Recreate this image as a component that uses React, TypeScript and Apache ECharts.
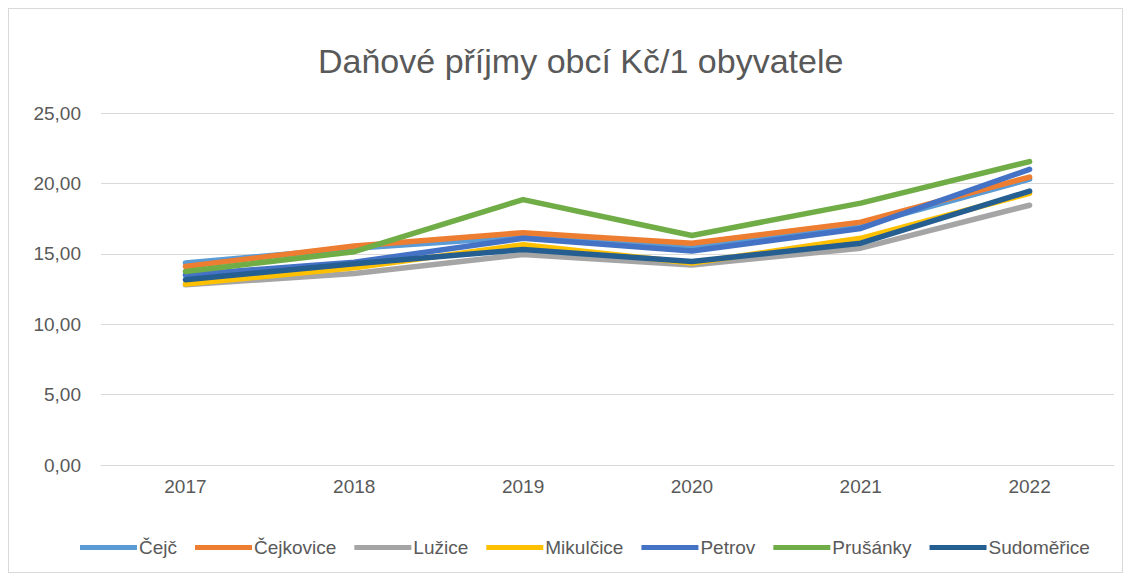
import React, { useEffect, useRef } from "react";
import * as echarts from "echarts";

const years = ["2017", "2018", "2019", "2020", "2021", "2022"];
const seriesNames = ["Čejč", "Čejkovice", "Lužice", "Mikulčice", "Petrov", "Prušánky", "Sudoměřice"];
const cejc = [14.35, 15.4, 16.2, 15.4, 17.0, 20.3];
const cejkovice = [14.1, 15.55, 16.5, 15.75, 17.25, 20.45];
const luzice = [12.8, 13.6, 14.95, 14.2, 15.4, 18.45];
const mikulcice = [12.85, 14.0, 15.65, 14.35, 16.1, 19.3];
const petrov = [13.5, 14.4, 16.1, 15.2, 16.8, 21.0];
const prusanky = [13.75, 15.15, 18.85, 16.3, 18.6, 21.55];
const sudomerice = [13.15, 14.3, 15.3, 14.45, 15.75, 19.45];
const colors = ["#5B9BD5", "#ED7D31", "#A5A5A5", "#FFC000", "#4472C4", "#70AD47", "#255E91"];
const yTicks = [0, 5, 10, 15, 20, 25];

const FONT = "'Liberation Sans', Arial, sans-serif";

export default function App() {
  const ref = useRef<HTMLDivElement>(null);
  useEffect(() => {
    if (!ref.current) return;
    const chart = echarts.init(ref.current, null, { renderer: "svg" });
    const data = [cejc, cejkovice, luzice, mikulcice, petrov, prusanky, sudomerice];
    chart.setOption({
      animation: false,
      title: {
        text: "Daňové příjmy obcí Kč/1 obyvatele",
        left: 304,
        top: 30,
        textStyle: { fontFamily: FONT, fontSize: 34, fontWeight: "normal", color: "#595959" },
      },
      legend: {
        bottom: 10,
        left: 66,
        icon: "rect",
        itemWidth: 57,
        itemHeight: 5,
        itemGap: 18,
        textStyle: { fontFamily: FONT, fontSize: 19, color: "#595959", padding: [0, 0, 0, -3] },
        data: seriesNames,
      },
      grid: { left: 92, right: 8, top: 104, bottom: 107, containLabel: false },
      xAxis: {
        type: "category",
        data: years,
        boundaryGap: true,
        axisLine: { lineStyle: { color: "#D9D9D9", width: 1 } },
        axisTick: { show: false },
        axisLabel: { fontFamily: FONT, fontSize: 19, color: "#595959", margin: 12 },
      },
      yAxis: {
        type: "value",
        min: yTicks[0],
        max: yTicks[yTicks.length - 1],
        interval: 5,
        axisLine: { show: false },
        axisTick: { show: false },
        splitLine: { lineStyle: { color: "#D9D9D9", width: 1 } },
        axisLabel: {
          fontFamily: FONT,
          fontSize: 19,
          color: "#595959",
          margin: 20,
          formatter: (v: number) => v.toFixed(2).replace(".", ","),
        },
      },
      series: seriesNames.map((name, i) => ({
        name,
        type: "line",
        data: data[i],
        symbol: "none",
        color: colors[i],
        lineStyle: { width: 5.5, color: colors[i], cap: "round", join: "round" },
      })),
    });
    return () => chart.dispose();
  }, []);
  return (
    <div
      ref={ref}
      style={{ width: 1115, height: 565, border: "1px solid #D9D9D9", boxSizing: "border-box", background: "#fff" }}
    />
  );
}
